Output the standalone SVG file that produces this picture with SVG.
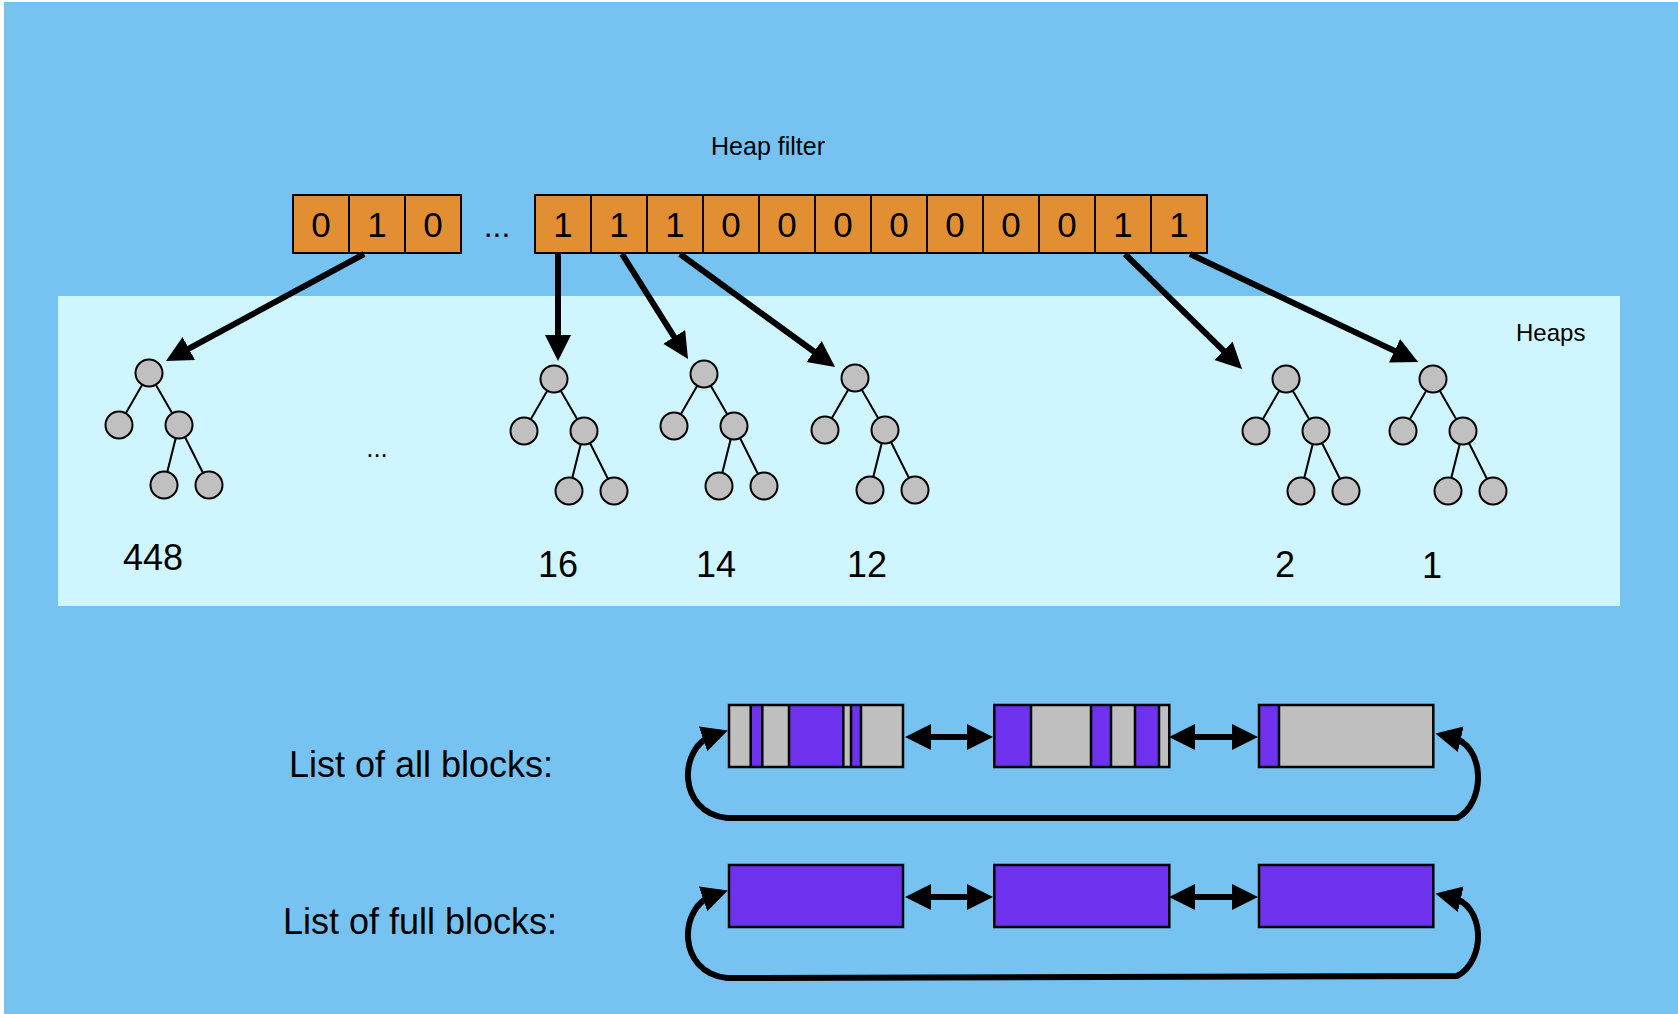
<svg xmlns="http://www.w3.org/2000/svg" width="1678" height="1014" viewBox="0 0 1678 1014">
<defs>
<style>
text{font-family:"Liberation Sans",Arial,sans-serif;fill:#000}
.cell{fill:#E28F34;stroke:#000;stroke-width:2}
.bit{font-size:35px;text-anchor:middle}
.num{font-size:36px;text-anchor:middle}
.node{fill:#C0C0C0;stroke:#000;stroke-width:2}
.edge{stroke:#000;stroke-width:2}
.arrow{stroke:#000;stroke-width:6;fill:none}
.grey{fill:#BFBFBF}
.purple{fill:#6E32EE}
.outline{fill:none;stroke:#000;stroke-width:2.5}
.div{stroke:#000;stroke-width:2.5}
</style>
<marker id="head" markerUnits="userSpaceOnUse" markerWidth="27" markerHeight="27" refX="10" refY="13" orient="auto-start-reverse" viewBox="0 0 27 27">
<path d="M0,0 L26,13 L0,26 z" fill="#000"/>
</marker>
<g id="tree">
<line class="edge" x1="0" y1="0" x2="-30" y2="52"/>
<line class="edge" x1="0" y1="0" x2="30" y2="52"/>
<line class="edge" x1="30" y1="52" x2="15" y2="112"/>
<line class="edge" x1="30" y1="52" x2="60" y2="112"/>
<circle class="node" cx="0" cy="0" r="13.5"/>
<circle class="node" cx="-30" cy="52" r="13.5"/>
<circle class="node" cx="30" cy="52" r="13.5"/>
<circle class="node" cx="15" cy="112" r="13.5"/>
<circle class="node" cx="60" cy="112" r="13.5"/>
</g>
</defs>
<rect x="0" y="0" width="1678" height="1014" fill="#fff"/>
<rect x="4" y="2" width="1674" height="1012" fill="#76C2F1"/>
<g id="heaps-area">
<rect x="58" y="296" width="1562" height="310" fill="#CFF5FE"/>
<text x="1516" y="341" style="font-size:24px">Heaps</text>
<text x="377" y="457" style="font-size:26px;text-anchor:middle">...</text>
</g>
<g id="heap-filter">
<text x="768" y="155" style="font-size:25px;text-anchor:middle">Heap filter</text>
<rect class="cell" x="293" y="195" width="56" height="58"/>
<rect class="cell" x="349" y="195" width="56" height="58"/>
<rect class="cell" x="405" y="195" width="56" height="58"/>
<text class="bit" x="321" y="237">0</text>
<text class="bit" x="377" y="237">1</text>
<text class="bit" x="433" y="237">0</text>
<text x="497" y="237" style="font-size:32px;text-anchor:middle">...</text>
<rect class="cell" x="535" y="195" width="56" height="58"/>
<rect class="cell" x="591" y="195" width="56" height="58"/>
<rect class="cell" x="647" y="195" width="56" height="58"/>
<rect class="cell" x="703" y="195" width="56" height="58"/>
<rect class="cell" x="759" y="195" width="56" height="58"/>
<rect class="cell" x="815" y="195" width="56" height="58"/>
<rect class="cell" x="871" y="195" width="56" height="58"/>
<rect class="cell" x="927" y="195" width="56" height="58"/>
<rect class="cell" x="983" y="195" width="56" height="58"/>
<rect class="cell" x="1039" y="195" width="56" height="58"/>
<rect class="cell" x="1095" y="195" width="56" height="58"/>
<rect class="cell" x="1151" y="195" width="56" height="58"/>
<text class="bit" x="563" y="237">1</text>
<text class="bit" x="619" y="237">1</text>
<text class="bit" x="675" y="237">1</text>
<text class="bit" x="731" y="237">0</text>
<text class="bit" x="787" y="237">0</text>
<text class="bit" x="843" y="237">0</text>
<text class="bit" x="899" y="237">0</text>
<text class="bit" x="955" y="237">0</text>
<text class="bit" x="1011" y="237">0</text>
<text class="bit" x="1067" y="237">0</text>
<text class="bit" x="1123" y="237">1</text>
<text class="bit" x="1179" y="237">1</text>
</g>
<g id="heap-448"><use href="#tree" x="149" y="373"/><text class="num" x="153" y="570">448</text></g>
<g id="heap-16"><use href="#tree" x="554" y="379"/><text class="num" x="558" y="577">16</text></g>
<g id="heap-14"><use href="#tree" x="704" y="374"/><text class="num" x="716" y="577">14</text></g>
<g id="heap-12"><use href="#tree" x="855" y="378"/><text class="num" x="867" y="577">12</text></g>
<g id="heap-2"><use href="#tree" x="1286" y="379"/><text class="num" x="1285" y="577">2</text></g>
<g id="heap-1"><use href="#tree" x="1433" y="379"/><text class="num" x="1432" y="578">1</text></g>
<g id="labels">
<text x="289" y="777" style="font-size:36px">List of all blocks:</text>
<text x="283" y="934" style="font-size:36px">List of full blocks:</text>
</g>
<g id="all-block-1">
<rect class="grey" x="729" y="705" width="174" height="62"/>
<rect class="purple" x="750.7" y="705" width="11.6" height="62"/>
<rect class="purple" x="789" y="705" width="54.3" height="62"/>
<rect class="purple" x="851" y="705" width="10" height="62"/>
<path class="div" d="M750.7,705V767M762.3,705V767M789,705V767M843.3,705V767M851,705V767M861,705V767"/>
<rect class="outline" x="729" y="705" width="174" height="62"/>
</g>
<g id="all-block-2">
<rect class="grey" x="994.3" y="705" width="175" height="62"/>
<rect class="purple" x="994.3" y="705" width="36.7" height="62"/>
<rect class="purple" x="1091" y="705" width="20" height="62"/>
<rect class="purple" x="1135" y="705" width="24" height="62"/>
<path class="div" d="M1031,705V767M1091,705V767M1111,705V767M1135,705V767M1159,705V767"/>
<rect class="outline" x="994.3" y="705" width="175" height="62"/>
</g>
<g id="all-block-3">
<rect class="grey" x="1259" y="705" width="174.3" height="62"/>
<rect class="purple" x="1259" y="705" width="20" height="62"/>
<path class="div" d="M1279,705V767"/>
<rect class="outline" x="1259" y="705" width="174.3" height="62"/>
</g>
<g id="full-block-1"><rect class="purple" x="729" y="865" width="174" height="62"/><rect class="outline" x="729" y="865" width="174" height="62"/></g>
<g id="full-block-2"><rect class="purple" x="994.3" y="865" width="175" height="62"/><rect class="outline" x="994.3" y="865" width="175" height="62"/></g>
<g id="full-block-3"><rect class="purple" x="1259" y="865" width="174.3" height="62"/><rect class="outline" x="1259" y="865" width="174.3" height="62"/></g>
<g id="connectors">
<line class="arrow" x1="364" y1="254" x2="180" y2="353.3" marker-end="url(#head)"/>
<line class="arrow" x1="558" y1="254" x2="558" y2="345" marker-end="url(#head)"/>
<line class="arrow" x1="622" y1="254" x2="679.5" y2="345.4" marker-end="url(#head)"/>
<line class="arrow" x1="680" y1="254" x2="822.1" y2="357.5" marker-end="url(#head)"/>
<line class="arrow" x1="1125" y1="254" x2="1230.6" y2="357.7" marker-end="url(#head)"/>
<line class="arrow" x1="1190" y1="254" x2="1403.6" y2="355.1" marker-end="url(#head)"/>
<line class="arrow" x1="921" y1="737" x2="977" y2="737" marker-start="url(#head)" marker-end="url(#head)"/>
<line class="arrow" x1="1185" y1="737" x2="1242" y2="737" marker-start="url(#head)" marker-end="url(#head)"/>
<path class="arrow" d="M1451,737 C1486,745 1486,803 1457,818 L727,818 C676,812 679,747 712.6,735.7" marker-start="url(#head)" marker-end="url(#head)"/>
<line class="arrow" x1="921" y1="897" x2="977" y2="897" marker-start="url(#head)" marker-end="url(#head)"/>
<line class="arrow" x1="1185" y1="897" x2="1242" y2="897" marker-start="url(#head)" marker-end="url(#head)"/>
<path class="arrow" d="M1451,897 C1486,905 1486,961 1457,976 L727,978 C676,972 679,907 712.6,895.7" marker-start="url(#head)" marker-end="url(#head)"/>
</g>
</svg>
